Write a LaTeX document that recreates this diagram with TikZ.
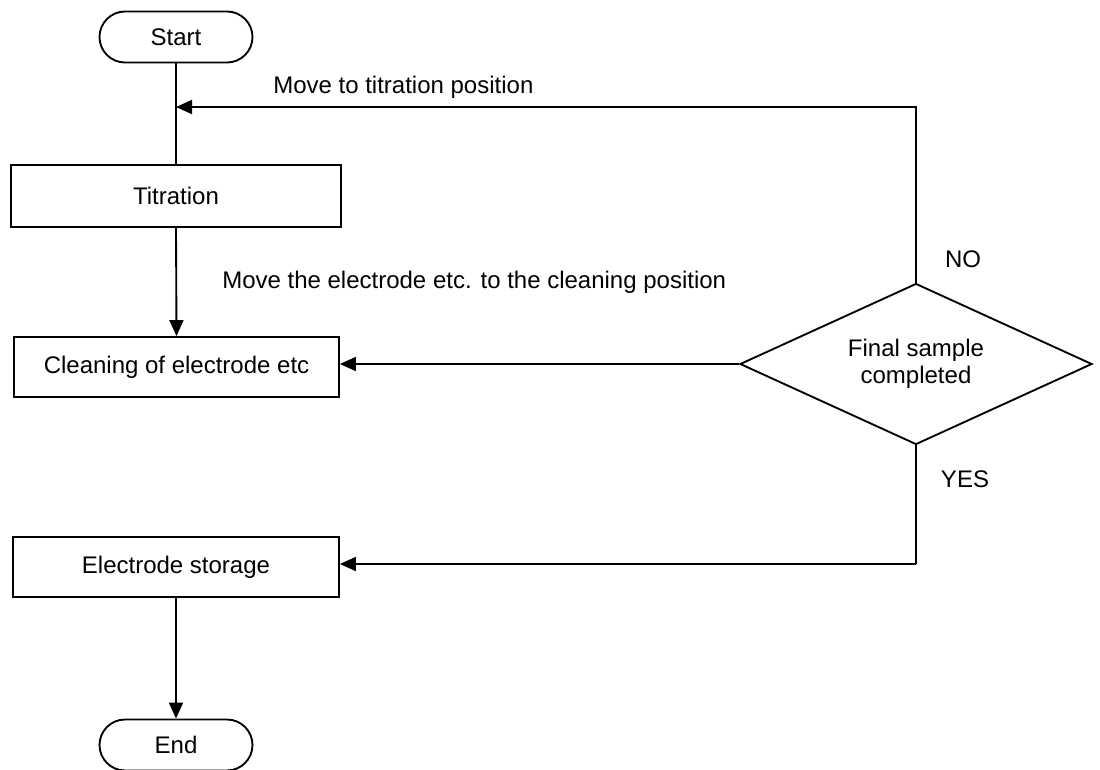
\documentclass[tikz,border=0pt]{standalone}
\usepackage{fontspec}
\setmainfont{Liberation Sans}
\usetikzlibrary{shapes.geometric,shapes.misc,arrows.meta}
\tikzset{
  base/.style={draw=black,line width=1.4pt,font=\fontsize{18}{20.5}\selectfont,inner sep=0pt,align=center},
  term/.style={base,rounded rectangle,minimum width=114.75pt,minimum height=38.25pt},
  proc/.style={base,rectangle,minimum height=45pt},
  dec/.style={base,diamond,aspect=2.186,minimum width=264pt,minimum height=120.75pt},
  conn/.style={line width=1.4pt},
  arr/.style={conn,-{Triangle[length=12pt,width=10.5pt]}},
  lbl/.style={font=\fontsize{18}{20.5}\selectfont,inner sep=0pt}
}
\begin{document}
\begin{tikzpicture}[x=0.75pt,y=-0.75pt]
\useasboundingbox (0,0) rectangle (1100,769);
\node[term] (start) at (176,37) {Start};
\node[proc,minimum width=247.5pt,minimum height=46.5pt] (tit) at (176,196) {Titration};
\node[proc,minimum width=243.75pt] (clean) at (176.5,367) {Cleaning of electrode etc};
\node[dec] (dia) at (916,364) {Final sample\\completed};
\node[proc,minimum width=244.5pt] (store) at (176,567) {Electrode storage};
\node[term] (end) at (176,745) {End};
\coordinate (j1) at (176,107);
\coordinate (j2) at (916,564);
\draw[conn] (start.south) -- (tit.north);
\draw[arr] (dia.north) |- (j1);
\draw[arr] (tit.south) -- (clean.north);
\draw[arr] (dia.west) -- (clean.east |- dia.west);
\draw[conn] (dia.south) -- (j2);
\draw[arr] (j2) -- (store.east |- j2);
\draw[arr] (store.south) -- (end.north);
\node[lbl,anchor=base west] (l1) at (273,93) {Move to titration position};
\node[lbl,anchor=base west] (l2) at (222,288) {Move the electrode etc. to the cleaning position};
\node[lbl,anchor=base] (no) at (963,267) {NO};
\node[lbl,anchor=base] (yes) at (965,487) {YES};
\end{tikzpicture}
\end{document}
